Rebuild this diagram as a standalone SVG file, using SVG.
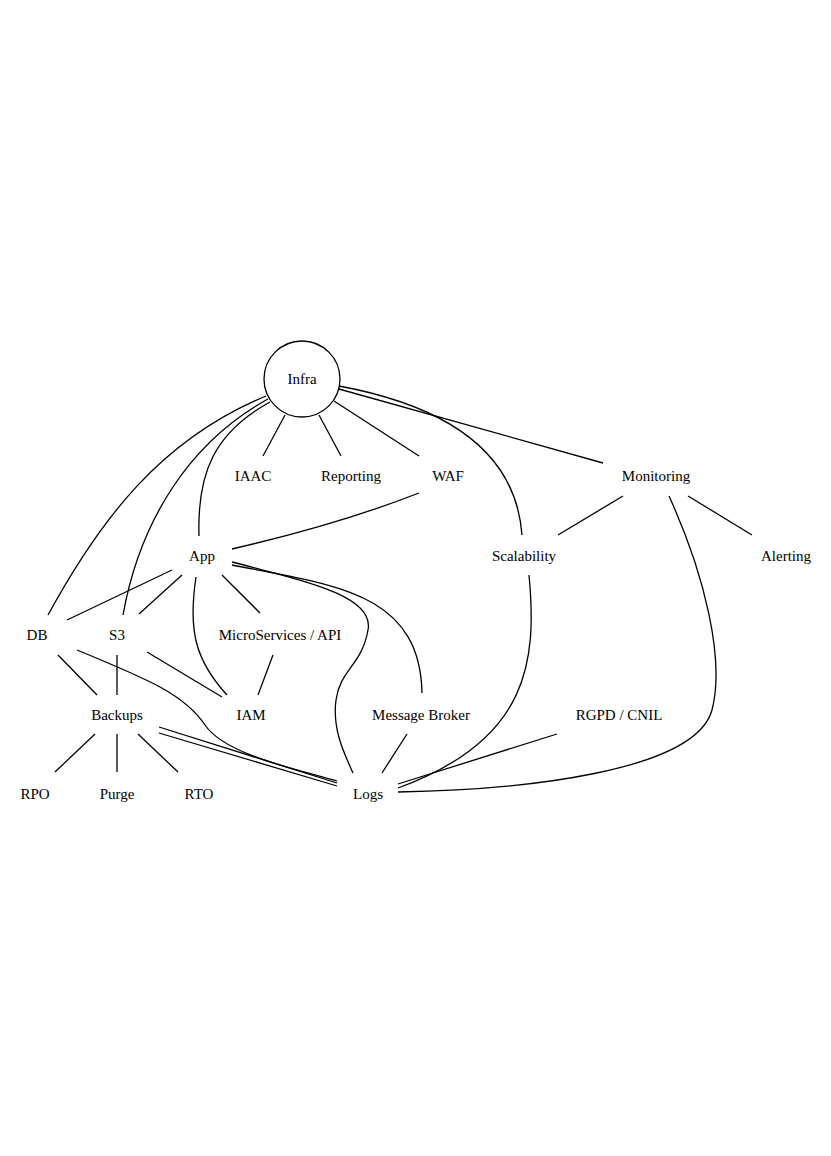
<svg xmlns="http://www.w3.org/2000/svg" width="831" height="1156" viewBox="0 0 831 1156">
<style>
.e{fill:none;stroke:#000;stroke-width:1.3}
text{font-family:"Liberation Serif","Times New Roman",serif;font-size:15px;fill:#000;text-anchor:middle}
</style>
<rect width="831" height="1156" fill="#fff"/>
<g id="connectors">
<path class="e" d="M285,415 L263,456"/>
<path class="e" d="M319,415 L341,456"/>
<path class="e" d="M334,401 L419,456"/>
<path class="e" d="M339,389 L603,463"/>
<path class="e" d="M339,386 C425,402 515,440 522,535"/>
<path class="e" d="M270,402 C215,432 197,472 199,536"/>
<path class="e" d="M268,399 C190,442 140,520 123,615"/>
<path class="e" d="M266,396 C160,440 100,520 48,615"/>
<path class="e" d="M232,549 Q340,524 419,493"/>
<path class="e" d="M623,496 L558,535"/>
<path class="e" d="M688,496 L752,535"/>
<path class="e" d="M669,496 C705,575 725,660 712,710 C695,772 520,790 398,792"/>
<path class="e" d="M529,575 C537,660 530,740 398,788"/>
<path class="e" d="M557,734 L398,784"/>
<path class="e" d="M407,734 L382,773"/>
<path class="e" d="M232,565 C330,585 420,590 422,693"/>
<path class="e" d="M232,562 C300,580 375,595 368,630 C362,665 340,670 336,700 C332,730 345,755 353,773"/>
<path class="e" d="M172,570 L67,620"/>
<path class="e" d="M182,575 L139,614"/>
<path class="e" d="M196,577 C188,630 195,660 227,695"/>
<path class="e" d="M222,575 L260,613"/>
<path class="e" d="M273,655 L258,695"/>
<path class="e" d="M147,652 L222,697"/>
<path class="e" d="M117,655 L117,695"/>
<path class="e" d="M58,655 L97,695"/>
<path class="e" d="M77,650 C150,680 185,695 205,725 C225,755 300,770 337,781"/>
<path class="e" d="M159,727 L337,783"/>
<path class="e" d="M159,733 L337,786"/>
<path class="e" d="M95,734 L55,772"/>
<path class="e" d="M117,734 L117,772"/>
<path class="e" d="M138,734 L178,772"/>
</g>
<g id="infra"><circle cx="302" cy="379" r="38" fill="none" stroke="#000" stroke-width="1.3"/><text x="302" y="384">Infra</text></g>
<g id="iaac"><text x="253" y="481">IAAC</text></g>
<g id="reporting"><text x="351" y="481">Reporting</text></g>
<g id="waf"><text x="448" y="481">WAF</text></g>
<g id="monitoring"><text x="656" y="481">Monitoring</text></g>
<g id="app"><text x="202" y="561">App</text></g>
<g id="scalability"><text x="524" y="561">Scalability</text></g>
<g id="alerting"><text x="786" y="561">Alerting</text></g>
<g id="db"><text x="37" y="640">DB</text></g>
<g id="s3"><text x="117" y="640">S3</text></g>
<g id="microservices"><text x="280" y="640">MicroServices / API</text></g>
<g id="backups"><text x="117" y="720">Backups</text></g>
<g id="iam"><text x="251" y="720">IAM</text></g>
<g id="broker"><text x="421" y="720">Message Broker</text></g>
<g id="rgpd"><text x="619" y="720">RGPD / CNIL</text></g>
<g id="rpo"><text x="35" y="799">RPO</text></g>
<g id="purge"><text x="117" y="799">Purge</text></g>
<g id="rto"><text x="199" y="799">RTO</text></g>
<g id="logs"><text x="368" y="799">Logs</text></g>
</svg>
